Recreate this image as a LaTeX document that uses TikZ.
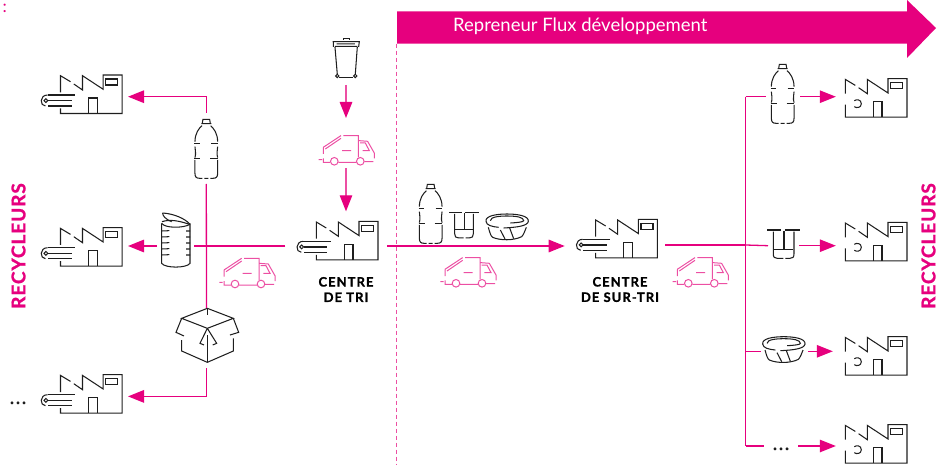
\documentclass[tikz,border=0pt]{standalone}
\usepackage{fontspec}
\setmainfont{Lato}
\newfontfamily\heavy{Lato}[BoldFeatures={FakeBold=1.2}]
\usetikzlibrary{arrows.meta}
\definecolor{pk}{HTML}{E6007E}
\definecolor{pkl}{HTML}{EC4FA3}
\definecolor{ink}{HTML}{1E1E1E}
\tikzset{
 x=1pt,y=-1pt,
 ghost/.style={inner sep=0pt,outer sep=0pt,rectangle},
 lnk/.style={draw=pk,line width=1.3pt},
 arr/.style={lnk,-{Triangle[width=12.5pt,length=16pt]}},
 lnkl/.style={draw=pkl,line width=1.3pt},
 arrl/.style={lnkl,-{Triangle[width=12.5pt,length=16pt,fill=pk,color=pk]}},
 black line/.style={draw=ink,line width=1.05pt},
 fgap/.initial=17.3, fgapb/.initial=33.5,
 factbody/.pic={
  \draw[black line,line join=miter] (10,6.7)--(0,0.7)--(0,\pgfkeysvalueof{/tikz/fgap});
  \draw[black line] (13.3,9)--(22,15)--(22,0.7)--(42.7,14.3)--(42.7,0)--(61.7,0)--(61.7,38.5)--(0,38.5)--(0,\pgfkeysvalueof{/tikz/fgapb});
  \draw[black line] (45.3,4) rectangle (57.3,10);
  \draw[black line] (28,38.5)--(28,23)--(36.7,23)--(36.7,38.5);
 },
 factA/.pic={
  \pic[fgap=17.3,fgapb=33.5] {factbody};
  \draw[black line] (-13,20)--(14.3,20) (-12.3,25.7)--(11,25.7) (-12.3,31)--(11,31);
  \draw[black line] (-14.6,25.6) circle[radius=1.9];
  \draw[black line] (-13,20) .. controls (-21,20) and (-21,31) .. (-15,31);
 },
 factB/.pic={
  \pic[fgap=15,fgapb=26] {factbody};
  \draw[black line] (9,22) .. controls (11,20.5) and (16,20.5) .. (16,25) .. controls (16,29.5) and (11,29.5) .. (9,28);
 },
 truck/.pic={
  \draw[draw=pkl,line width=1pt] (-4.7,-2.7)--(-1.3,-2.7)
   (0,-15)--(0,-8.3) (0,-4)--(0,0)--(7,0) (15,0)--(33.3,0) (41,-.7)--(50,-.7)
   (51,-4)--(51,-9.3)--(44.3,-21)--(35,-21.7)
   (0,-15)--(17.7,-26.7) (2,-13.3)--(17.7,-24)
   (20,-26.7)--(35,-26.7)--(35,-5)
   (36.7,-19.3)--(42,-19.3)--(46,-11.7)--(39.3,-11.7)
   (18.7,-11.7)--(27.7,-11.7);
  \draw[draw=pkl,line width=1pt] (11,-1) circle[radius=3.8] (37,-1) circle[radius=3.8];
 },
 bottle/.pic={
  \begin{scope}[scale=1/3]
  \draw[black line] (-12,15)--(-10,3)--(10,3)--(12,15) (-15,16)--(15,16);
  \draw[black line] (-13,22) .. controls (-22,30) and (-34,45) .. (-34,70)
    (13,22) .. controls (22,30) and (34,45) .. (34,70);
  \draw[black line] (-36,75)--(-20,75) (15,75)--(34,75);
  \draw[black line] (-34,85) .. controls (-34,95) and (-30,105) .. (-34,118)
    (34,85) .. controls (34,95) and (30,105) .. (34,118);
  \draw[black line] (-36,121)--(-18,121) (12,121)--(34,121);
  \draw[black line] (-34,125)--(-34,165) .. controls (-34,176) and (-30,180) .. (-20,180)--(-12,180)
    (34,125)--(34,165) .. controls (34,176) and (30,180) .. (20,180)--(12,180)
    (-6,180)--(6,180);
  \end{scope}
 },
 jar/.pic={
  \begin{scope}[scale=1/3]
  \draw[black line] (-48,0)--(-6,0) (5,0)--(50,0);
  \draw[black line] (-30,5)--(-30,72) .. controls (-30,82) and (-26,85) .. (-18,85)--(0,85)
    (32,5)--(32,72) .. controls (32,82) and (28,85) .. (20,85)--(6,85);
  \draw[black line] (-28,58)--(30,58) (2,3)--(2,56);
  \end{scope}
 },
 tub/.pic={
  \begin{scope}[scale=1/3]
  \draw[black line] (-63,22) .. controls (-66,5) and (-30,0) .. (0,0) .. controls (30,0) and (66,5) .. (64,22)
    .. controls (62,36) and (30,40) .. (-10,42);
  \draw[black line] (-25,40) .. controls (-45,38) and (-62,34) .. (-63,22);
  \draw[black line] (-50,20) .. controls (-50,8) and (-20,6) .. (0,6) .. controls (30,6) and (50,10) .. (50,20)
    .. controls (50,24) and (30,26) .. (10,27);
  \draw[black line] (-56,40) .. controls (-52,55) and (-48,68) .. (-43,70)
    .. controls (-20,80) and (20,80) .. (44,68) .. controls (50,62) and (54,50) .. (58,40);
  \draw[black line] (-20,48)--(-6,75) (8,42)--(20,74);
  \end{scope}
 },
 can/.pic={
  \begin{scope}[scale=1/3]
  \draw[black line] (35,55)--(35,175) .. controls (45,190) and (110,190) .. (120,175)--(120,55);
  \draw[black line] (35,55) .. controls (45,70) and (100,70) .. (120,58);
  \draw[black line] (36,50) .. controls (60,42) and (90,48) .. (118,58);
  \draw[black line] (38,24) .. controls (70,26) and (105,40) .. (120,58);
  \draw[black line] (38,24) .. controls (38,32) and (45,42) .. (65,50);
  \foreach \yy in {78,96,114,132,150}{\draw[black line] (35,\yy)--(58,\yy-1) (108,\yy)--(120,\yy);}
  \end{scope}
 },
 bin/.pic={
  \begin{scope}[scale=1/3]
  \draw[black line] (-9,5)--(-9,0)--(9,0)--(9,5);
  \draw[black line] (-41,10)--(41,10) (-39,10)--(-39,26) (39,10)--(37,26) (-29,17)--(26,17) (-34,24)--(33,24);
  \draw[black line] (-34,26)--(-27,108) (33,26)--(27,108);
  \draw[black line] (-21,118)--(21,118);
  \draw[black line] (-27,113) circle[radius=5] (27,113) circle[radius=5];
  \end{scope}
 },
 carton/.pic={
  \begin{scope}[scale=1/3]
  \draw[black line] (545,85)--(622,55)--(700,85)--(622,115)--cycle;
  \draw[black line] (622,55)--(622,75);
  \draw[black line] (545,85)--(528,127)--(552,138) (700,85)--(716,127)--(690,135);
  \draw[black line] (622,115)--(600,160)--(612,165) (622,115)--(650,160)--(638,165);
  \draw[black line] (545,150)--(545,183)--(622,217)--(700,183)--(700,145);
  \draw[black line] (622,135)--(622,217);
  \end{scope}
 },
}
\newcommand{\PutFactA}[3]{%
 \node[ghost,minimum width=88.5pt,minimum height=43.4pt,anchor=north west] (#1) at (#2-21,#3) {};
 \pic at (#2,#3) {factA};}
\newcommand{\PutFactB}[3]{%
 \node[ghost,minimum width=70.4pt,minimum height=36pt,anchor=north west] (#1) at (#2-9.5,#3) {};
 \pic at (#2,#3) {factB};}
\newcommand{\Ghost}[5]{\node[ghost,minimum width=#4pt,minimum height=#5pt] (#1) at (#2,#3) {};}
\begin{document}
\begin{tikzpicture}
\useasboundingbox (0,0) rectangle (937,465);
% band
\fill[pk] (397,11.5)--(907,11.5)--(907,0)--(936,28)--(907,58)--(907,43.7)--(397,43.7)--cycle;
\node[anchor=west,text=white,font=\fontsize{18.5}{20}\selectfont,inner sep=0pt] (band) at (453,26.5) {Repreneur Flux développement};
\coordinate (dashtop) at (396.5,43.7);
\coordinate (dashbot) at (396.5,465);
\draw[draw=pkl,line width=1.6pt,dash pattern=on 4pt off 3pt] (dashtop)--(dashbot);
\node[text=pk,font=\fontsize{17}{18}\selectfont,inner sep=0pt] (colon) at (4.7,8) {:};
% factories
\PutFactA{f1}{60.5}{75}
\PutFactA{f2}{60.5}{227.7}
\PutFactA{f3}{60.5}{374.7}
\PutFactA{f4}{316.3}{221.3}
\PutFactA{f5}{595.7}{219.3}
\PutFactB{g1}{845.3}{78.7}
\PutFactB{g2}{845.3}{222.3}
\PutFactB{g3}{845.3}{336.7}
\PutFactB{g4}{845.3}{424.7}
% trucks
\foreach \tx/\ty in {224/285,323.3/162.3,445/284.3,677.3/284.3}{\pic at (\tx,\ty) {truck};}
\Ghost{t2}{346}{143}{50}{50}
% left items
\pic at (206.3,118.3) {bottle};
\Ghost{b1}{206.3}{148.5}{34}{71}
\pic at (150,205) {can};
\Ghost{can}{175.5}{246}{37}{50}
\pic at (0,290) {carton};
\Ghost{cart}{206.5}{338}{60}{60}
% bin
\pic at (346.3,38.3) {bin};
\Ghost{bin}{346}{61.5}{40}{47}
% middle items
\pic at (430.7,183.3) {bottle};
\pic[scale=.9] at (463.7,212.3) {jar};
\pic at (507,214) {tub};
% right items
\pic at (782.7,63.3) {bottle};
\Ghost{r1}{783}{96.7}{34}{60}
\pic at (783.3,230) {jar};
\Ghost{r2}{783.5}{245.7}{31}{30}
\pic at (783.7,336.7) {tub};
\Ghost{r3}{784.5}{351.3}{47}{30}
\Ghost{r4}{781}{446}{34}{14}
\node[inner sep=0pt,font=\heavy\bfseries\fontsize{16}{16}\selectfont,text=ink,anchor=base] (dotsr) at (781,450) {.\kern2.2pt.\kern2.2pt.};
\node[inner sep=0pt,font=\heavy\bfseries\fontsize{16}{16}\selectfont,text=ink,anchor=base] (dotsl) at (18,404) {.\kern2.2pt.\kern2.2pt.};
% labels
\tikzset{lab/.style={align=center,font=\heavy\bfseries\fontsize{13}{15.4}\selectfont\addfontfeature{LetterSpace=8},text=black,inner sep=0pt},
 rec/.style={rotate=90,font=\heavy\bfseries\fontsize{19}{20}\selectfont\addfontfeature{LetterSpace=5},text=pk,inner sep=0pt}}
\node[lab] (l4) at (346,289.5) {CENTRE\\DE TRI};
\node[lab] (l5) at (620,289.5) {CENTRE\\DE SUR-TRI};
\node[rec] (recL) at (18.5,246) {RECYCLEURS};
\node[rec] (recR) at (928.5,246) {RECYCLEURS};
% junctions
\coordinate (jL) at (206.5,246);
\coordinate (mR) at (500,246);
\coordinate (jR) at (745.7,245);
\coordinate (j1) at (745.7,96.7);
\coordinate (j3) at (745.7,351.3);
\coordinate (j4) at (745.7,446);
% connectors
\draw[arrl] (bin.south) -- (bin.south |- t2.north);
\draw[arrl] (t2.south) -- ([yshift=10pt]t2.south |- f4.north);
\draw[lnk,shorten <=10pt] (jL -| f4.west) -- (jL -| can.east);
\draw[arr] (can.west) -- (can.west -| f2.east);
\draw[lnk] (b1.south) -- (cart.north);
\draw[arr] (b1.north) |- (f1.east);
\draw[arr] (cart.south) |- (f3.east);
\draw[arr,shorten <=3.5pt,shorten >=10pt] (mR -| f4.east) -- (mR -| f5.west);
\draw[lnk,shorten <=2pt] (jR -| f5.east) -- (jR);
\draw[lnk] (j1) -- (j4);
\draw[lnk] (j1) -- (r1.west);
\draw[arr] (r1.east) -- (r1.east -| g1.west);
\draw[lnk] (jR) -- (r2.west);
\draw[arr] (r2.east) -- (r2.east -| g2.west);
\draw[lnk] (j3) -- (r3.west);
\draw[arr,shorten >=3pt] (r3.east) -- (r3.east -| g3.west);
\draw[lnk] (j4) -- (r4.west);
\draw[arr] (r4.east) -- (r4.east -| g4.west);
\end{tikzpicture}
\end{document}
